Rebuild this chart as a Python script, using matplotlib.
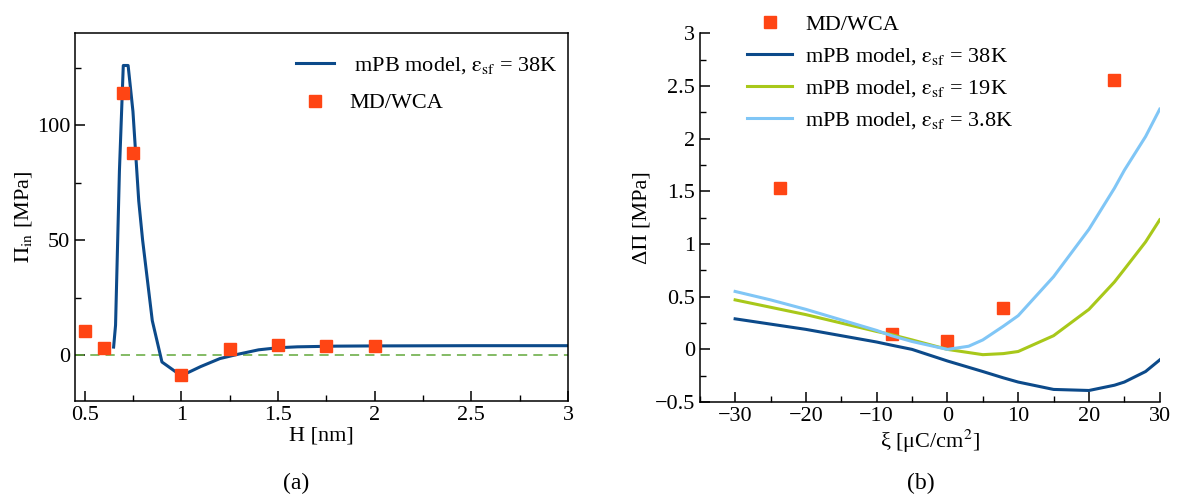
import matplotlib
matplotlib.use("Agg")
import matplotlib.pyplot as plt
from matplotlib.ticker import MultipleLocator

plt.rcParams['font.family'] = ['Liberation Serif', 'DejaVu Serif']
plt.rcParams['mathtext.fontset'] = 'stix'
plt.rcParams['font.size'] = 16

# panel (a): disjoining pressure vs pore width
H_model = [0.65, 0.66, 0.68, 0.70, 0.725, 0.75, 0.78, 0.80, 0.85, 0.90, 1.0,
           1.1, 1.2, 1.3, 1.4, 1.5, 1.6, 1.8, 2.0, 2.5, 3.0]
Pi_model = [3.5, 13, 80, 126, 126, 106, 67, 50, 15, -3, -9,
            -5, -1.5, 0.5, 2.3, 3.2, 3.6, 3.9, 4.0, 4.1, 4.1]
H_md = [0.5, 0.6, 0.7, 0.75, 1.0, 1.25, 1.5, 1.75, 2.0]
Pi_md = [10.4, 3.0, 114, 88, -8.7, 2.6, 4.2, 3.9, 3.9]

# panel (b): pressure change vs surface charge
xi = [-30, -25, -20, -15, -10, -7.9, -5, 0, 3, 5, 7.9, 10, 15, 20, 23.6, 25, 28, 30]
dPi_38K = [0.29, 0.24, 0.19, 0.13, 0.07, 0.04, 0.0, -0.11, -0.17, -0.21, -0.27, -0.31,
           -0.38, -0.39, -0.34, -0.31, -0.21, -0.10]
dPi_19K = [0.47, 0.40, 0.33, 0.25, 0.17, 0.14, 0.09, 0.0, -0.03, -0.05, -0.04, -0.02,
           0.13, 0.38, 0.64, 0.76, 1.02, 1.23]
dPi_3p8K = [0.55, 0.47, 0.38, 0.28, 0.18, 0.13, 0.075, 0.0, 0.03, 0.09, 0.22, 0.32,
            0.69, 1.14, 1.53, 1.70, 2.02, 2.28]
xi_md = [-23.6, -7.9, 0, 7.9, 23.6]
dPi_md = [1.53, 0.15, 0.076, 0.39, 2.56]

c_dark = '#0c4a8a'
c_green = '#a8c81a'
c_light = '#80c6f6'
c_md = '#ff4514'

eps = r'$\mathrm{\epsilon}_{\mathrm{sf}}$'

fig = plt.figure(figsize=(11.84, 4.97), dpi=100)

ax1 = fig.add_axes([0.0633, 0.193, 0.4164, 0.740])
ax1.axhline(0, color='#62a83a', lw=1.1, ls=(0, (6, 4)))
ax1.plot(H_model, Pi_model, color=c_dark, lw=2.2,
         label=' mPB model, ' + eps + ' = 38K')
ax1.plot(H_md, Pi_md, 's', color=c_md, ms=8, label='MD/WCA')
ax1.set_xlim(0.45, 3)
ax1.set_ylim(-20, 140)
ax1.xaxis.set_minor_locator(MultipleLocator(0.25))
ax1.yaxis.set_major_locator(MultipleLocator(50))
ax1.yaxis.set_minor_locator(MultipleLocator(25))
ax1.set_xticks([0.5, 1, 1.5, 2, 2.5, 3])
ax1.set_xticklabels(['0.5', '1', '1.5', '2', '2.5', '3'])
ax1.tick_params(which='both', direction='in', top=False, right=False)
ax1.tick_params(which='major', length=7, width=1.1)
ax1.tick_params(which='minor', length=4, width=1.0)
ax1.set_xlabel('H [nm]', labelpad=1)
ax1.set_ylabel(r'$\Pi_{\mathrm{in}}$ [MPa]', labelpad=2)
ax1.legend(loc='upper right', frameon=False, handlelength=1.7,
           bbox_to_anchor=(1.02, 0.995), labelspacing=0.75, handletextpad=0.7)
for s in ax1.spines.values():
    s.set_linewidth(1.1)

ax2 = fig.add_axes([0.591, 0.191, 0.3885, 0.742])
ax2.plot(xi_md, dPi_md, 's', color=c_md, ms=8, label='MD/WCA')
ax2.plot(xi, dPi_38K, color=c_dark, lw=2.2, label='mPB model, ' + eps + ' = 38K')
ax2.plot(xi, dPi_19K, color=c_green, lw=2.2, label='mPB model, ' + eps + ' = 19K')
ax2.plot(xi, dPi_3p8K, color=c_light, lw=2.2, label='mPB model, ' + eps + ' = 3.8K')
ax2.set_xlim(-35, 30)
ax2.set_ylim(-0.5, 3)
ax2.xaxis.set_minor_locator(MultipleLocator(5))
ax2.yaxis.set_minor_locator(MultipleLocator(0.25))
ax2.set_xticks([-30, -20, -10, 0, 10, 20, 30])
ax2.set_xticklabels(['\u221230', '\u221220', '\u221210', '0', '10', '20', '30'])
ax2.set_yticks([-0.5, 0, 0.5, 1, 1.5, 2, 2.5, 3])
ax2.set_yticklabels(['\u22120.5', '0', '0.5', '1', '1.5', '2', '2.5', '3'])
ax2.spines['top'].set_visible(False)
ax2.spines['right'].set_visible(False)
for s in ['left', 'bottom']:
    ax2.spines[s].set_linewidth(1.1)
ax2.tick_params(which='both', direction='in', top=False, right=False)
ax2.tick_params(which='major', length=7, width=1.1)
ax2.tick_params(which='minor', length=4, width=1.0)
ax2.set_xlabel('\u03be [\u03bcC/cm$^2$]', labelpad=1)
ax2.set_ylabel('\u0394\u03a0 [MPa]', labelpad=2)
ax2.legend(loc='upper left', frameon=False, handlelength=2.0,
           bbox_to_anchor=(0.06, 1.105), labelspacing=0.5, handletextpad=0.6)

fig.text(296 / 1184, 1 - 483 / 497, '(a)', ha='center', va='center', fontsize=17)
fig.text(921 / 1184, 1 - 483 / 497, '(b)', ha='center', va='center', fontsize=17)

fig.savefig('out.png', dpi=100)
